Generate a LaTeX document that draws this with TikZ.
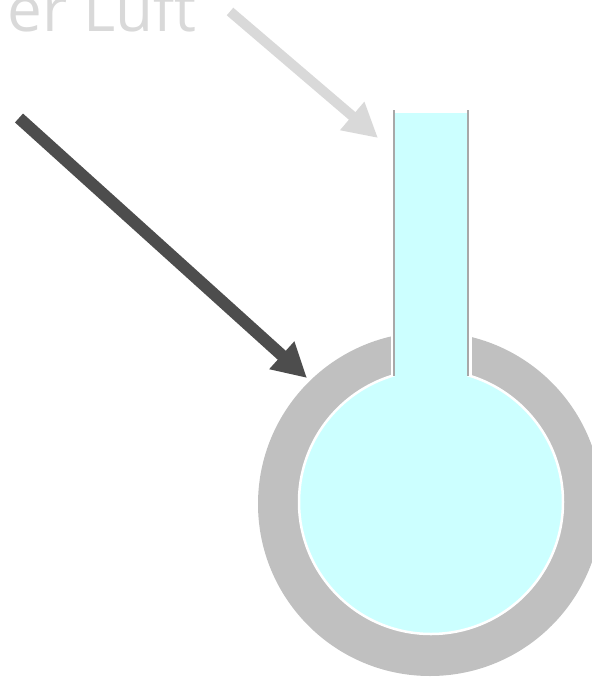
\documentclass[tikz,border=0pt]{standalone}
\usepackage{fontspec}
\setmainfont{Open Sans}
\usepackage{tikz}
\usetikzlibrary{arrows.meta,positioning}
\definecolor{RingGray}{RGB}{192,192,192}
\definecolor{FluidCyan}{RGB}{204,255,255}
\definecolor{WallGray}{RGB}{168,168,168}
\definecolor{ArrowDark}{RGB}{77,77,77}
\definecolor{ArrowLight}{RGB}{217,217,217}

\begin{document}
\begin{tikzpicture}[x=1pt, y=-1pt,
    darkarrow/.style={ArrowDark, line width=12pt, -{Triangle[length=34pt, width=35pt]}},
    lightarrow/.style={ArrowLight, line width=10pt, -{Triangle[length=34pt, width=35pt]}},
    tubewall/.style={WallGray, line width=2pt}]
  \useasboundingbox (0,0) rectangle (592,678);
  \clip (0,0) rectangle (592,678);

  % Caption (cut at the border)
  \node[ArrowLight, inner sep=0pt, anchor=base east, font=\fontsize{62}{70}\selectfont] (caption) at (197,31) {er Luft};

  % Outer ring
  \node[circle, fill=RingGray, minimum size=344pt, inner sep=0pt] (bulb) at (430,504) {};
  \fill[white] (391,320) rectangle (472,395);

  % Fluid in the bulb
  \node[circle, fill=FluidCyan, draw=white, line width=2.5pt, minimum size=264pt, inner sep=0pt] (glass) at (431,502) {};

  % Stem
  \node[rectangle, fill=FluidCyan, minimum width=72pt, minimum height=275pt, inner sep=0pt] (stem) at (431,250.5) {};
  \draw[tubewall] (394,110) -- (394,376);
  \draw[tubewall] (468,110) -- (468,376);

  % Arrows
  \coordinate (coldTail) at (19,118);
  \coordinate (coldTip) at (307,378);
  \draw[darkarrow] (coldTail) -- (coldTip);
  \coordinate (warmTail) at (230,11.5);
  \coordinate (warmTip) at (378,138);
  \draw[lightarrow] (warmTail) -- (warmTip);
\end{tikzpicture}
\end{document}
